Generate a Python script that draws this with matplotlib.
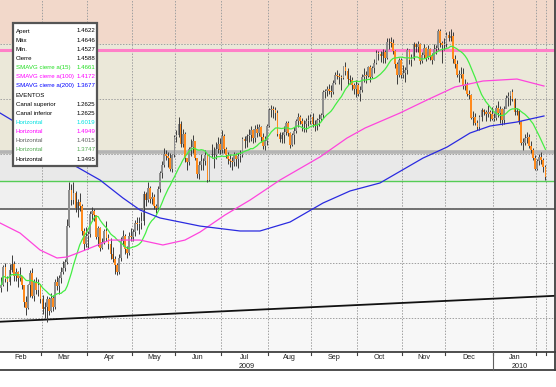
import numpy as np
import pandas as pd
import matplotlib.pyplot as plt
from matplotlib.patches import Rectangle
from matplotlib.lines import Line2D

# --- data (EUR/USD daily, Feb 2009 - Feb 2010) ---
months = ['Feb', 'Mar', 'Apr', 'May', 'Jun', 'Jul', 'Aug', 'Sep', 'Oct', 'Nov', 'Dec', 'Jan', 'Feb']
days_in_month = [20, 22, 22, 21, 22, 23, 21, 22, 22, 21, 23, 21, 5]
years = ['2009', '2010']

first_open = 1.2770
closes = [
    1.2800, 1.2960, 1.2850, 1.2830, 1.2940, 1.2990, 1.2880, 1.2920, 1.2860, 1.2880,
    1.2800, 1.2640, 1.2590, 1.2800, 1.2910, 1.2700, 1.2830, 1.2750, 1.2800, 1.2670,
    1.2580, 1.2600, 1.2670, 1.2560, 1.2680, 1.2600, 1.2830, 1.2790, 1.2860, 1.2920, 1.2950,
    1.3010, 1.3340, 1.3670, 1.3580, 1.3640, 1.3500, 1.3560, 1.3520, 1.3290, 1.3170, 1.3250,
    1.3270, 1.3450, 1.3480, 1.3440, 1.3240, 1.3320, 1.3140, 1.3190, 1.3290, 1.3230, 1.3170,
    1.3080, 1.3040, 1.2980, 1.2920, 1.3050, 1.3200, 1.3250, 1.3130, 1.3090, 1.3250, 1.3240,
    1.3280, 1.3370, 1.3360, 1.3370, 1.3380, 1.3630, 1.3580, 1.3690, 1.3590, 1.3600, 1.3520,
    1.3500, 1.3680, 1.3820, 1.3900, 1.4000, 1.3980, 1.3960, 1.3860, 1.3990, 1.4150,
    1.4170, 1.4270, 1.4090, 1.4180, 1.3960, 1.3920, 1.4040, 1.4060, 1.4120, 1.3960, 1.3810,
    1.3900, 1.3930, 1.3930, 1.3990, 1.3760, 1.3990, 1.3990, 1.3990, 1.4040, 1.4090, 1.4030,
    1.4160, 1.4040, 1.3990, 1.3950, 1.3930, 1.3920, 1.3990, 1.3950, 1.3980, 1.3990, 1.4130,
    1.4120, 1.4160, 1.4170, 1.4220, 1.4140, 1.4230, 1.4190, 1.4240, 1.4150, 1.4070, 1.4120, 1.4250,
    1.4400, 1.4410, 1.4400, 1.4370, 1.4180, 1.4130, 1.4170, 1.4200, 1.4280, 1.4190, 1.4080,
    1.4170, 1.4210, 1.4300, 1.4340, 1.4300, 1.4270, 1.4270, 1.4300, 1.4300, 1.4340,
    1.4270, 1.4260, 1.4310, 1.4320, 1.4350, 1.4560, 1.4570, 1.4590, 1.4570, 1.4560, 1.4650,
    1.4720, 1.4710, 1.4700, 1.4690, 1.4790, 1.4760, 1.4680, 1.4670, 1.4630, 1.4590, 1.4630,
    1.4550, 1.4580, 1.4700, 1.4720, 1.4710, 1.4790, 1.4700, 1.4780, 1.4830, 1.4920, 1.4910,
    1.4890, 1.4930, 1.4880, 1.5020, 1.5020, 1.5010, 1.4940, 1.4820, 1.4720, 1.4860, 1.4720,
    1.4740, 1.4770, 1.4950, 1.4860, 1.4870, 1.5000, 1.4980, 1.5000, 1.4850, 1.4900, 1.4970,
    1.4880, 1.4960, 1.4890, 1.4860, 1.4960, 1.4970, 1.5120, 1.5010, 1.4990, 1.5000,
    1.5090, 1.5060, 1.5080, 1.4870, 1.4820, 1.4720, 1.4720, 1.4730, 1.4620, 1.4630, 1.4550, 1.4540,
    1.4330, 1.4340, 1.4280, 1.4240, 1.4340, 1.4400, 1.4380, 1.4360, 1.4380, 1.4360, 1.4320,
    1.4330, 1.4420, 1.4370, 1.4410, 1.4310, 1.4410, 1.4510, 1.4530, 1.4560, 1.4500, 1.4380,
    1.4390, 1.4290, 1.4100, 1.4100, 1.4140, 1.4150, 1.4070, 1.4030, 1.3960, 1.3860,
    1.3930, 1.3970, 1.3940, 1.3880, 1.3785,
]
highs = [
    1.2870, 1.2980, 1.3000, 1.2880, 1.2990, 1.3070, 1.3020, 1.2950, 1.2930, 1.2960,
    1.2880, 1.2800, 1.2700, 1.2810, 1.2940, 1.2950, 1.2850, 1.2870, 1.2850, 1.2810,
    1.2710, 1.2640, 1.2700, 1.2690, 1.2730, 1.2710, 1.2850, 1.2880, 1.2890, 1.2960, 1.3020,
    1.3040, 1.3400, 1.3740, 1.3720, 1.3740, 1.3660, 1.3590, 1.3640, 1.3540, 1.3320, 1.3330,
    1.3290, 1.3480, 1.3510, 1.3490, 1.3440, 1.3340, 1.3330, 1.3230, 1.3310, 1.3380, 1.3270,
    1.3230, 1.3150, 1.3060, 1.3000, 1.3080, 1.3240, 1.3300, 1.3270, 1.3160, 1.3280, 1.3320,
    1.3310, 1.3390, 1.3420, 1.3420, 1.3470, 1.3660, 1.3650, 1.3740, 1.3700, 1.3650, 1.3630,
    1.3540, 1.3700, 1.3840, 1.3930, 1.4050, 1.4030, 1.4020, 1.4010, 1.4000, 1.4170,
    1.4220, 1.4340, 1.4300, 1.4230, 1.4200, 1.3960, 1.4060, 1.4130, 1.4170, 1.4120, 1.3930,
    1.3930, 1.4000, 1.3960, 1.4030, 1.3990, 1.4000, 1.4090, 1.4060, 1.4110, 1.4150, 1.4140,
    1.4220, 1.4180, 1.4060, 1.4020, 1.4000, 1.3970, 1.4020, 1.4010, 1.4010, 1.4030, 1.4150,
    1.4160, 1.4180, 1.4230, 1.4250, 1.4230, 1.4260, 1.4270, 1.4270, 1.4250, 1.4190, 1.4160, 1.4270,
    1.4420, 1.4450, 1.4440, 1.4430, 1.4400, 1.4200, 1.4200, 1.4250, 1.4300, 1.4300, 1.4200,
    1.4190, 1.4240, 1.4320, 1.4370, 1.4350, 1.4330, 1.4310, 1.4330, 1.4350, 1.4360,
    1.4370, 1.4310, 1.4330, 1.4360, 1.4370, 1.4580, 1.4590, 1.4620, 1.4640, 1.4630, 1.4670,
    1.4750, 1.4770, 1.4740, 1.4720, 1.4800, 1.4840, 1.4780, 1.4720, 1.4700, 1.4650, 1.4670,
    1.4650, 1.4620, 1.4730, 1.4780, 1.4760, 1.4800, 1.4810, 1.4800, 1.4870, 1.4950, 1.4940,
    1.4940, 1.4960, 1.4950, 1.5060, 1.5060, 1.5070, 1.5050, 1.4950, 1.4840, 1.4880, 1.4880,
    1.4810, 1.4790, 1.4970, 1.4960, 1.4910, 1.5020, 1.5010, 1.5030, 1.5010, 1.4930, 1.5000,
    1.4980, 1.4990, 1.4970, 1.4920, 1.5000, 1.4990, 1.5145, 1.5140, 1.5030, 1.5060,
    1.5110, 1.5120, 1.5140, 1.5110, 1.4900, 1.4860, 1.4770, 1.4790, 1.4780, 1.4680, 1.4660, 1.4580,
    1.4550, 1.4390, 1.4370, 1.4310, 1.4350, 1.4420, 1.4410, 1.4400, 1.4450, 1.4400, 1.4430,
    1.4370, 1.4450, 1.4480, 1.4440, 1.4420, 1.4440, 1.4540, 1.4560, 1.4570, 1.4590, 1.4510,
    1.4420, 1.4410, 1.4300, 1.4140, 1.4180, 1.4200, 1.4180, 1.4120, 1.4050, 1.3990,
    1.3950, 1.4000, 1.4020, 1.3960, 1.3900,
]
lows = [
    1.2735, 1.2790, 1.2830, 1.2740, 1.2800, 1.2920, 1.2840, 1.2840, 1.2780, 1.2840,
    1.2760, 1.2600, 1.2520, 1.2580, 1.2690, 1.2680, 1.2650, 1.2720, 1.2700, 1.2630,
    1.2530, 1.2500, 1.2460, 1.2520, 1.2550, 1.2560, 1.2580, 1.2750, 1.2720, 1.2820, 1.2900,
    1.2930, 1.2990, 1.3330, 1.3530, 1.3540, 1.3470, 1.3420, 1.3480, 1.3260, 1.3120, 1.3150,
    1.3130, 1.3240, 1.3380, 1.3380, 1.3220, 1.3160, 1.3110, 1.3130, 1.3170, 1.3200, 1.3130,
    1.3040, 1.3010, 1.2900, 1.2890, 1.2900, 1.3020, 1.3160, 1.3080, 1.3050, 1.3070, 1.3200,
    1.3200, 1.3250, 1.3300, 1.3270, 1.3310, 1.3350, 1.3520, 1.3560, 1.3550, 1.3540, 1.3490,
    1.3460, 1.3490, 1.3650, 1.3780, 1.3880, 1.3940, 1.3880, 1.3840, 1.3830, 1.3970,
    1.4110, 1.4150, 1.4060, 1.4060, 1.3920, 1.3850, 1.3900, 1.3980, 1.4010, 1.3940, 1.3780,
    1.3770, 1.3850, 1.3850, 1.3900, 1.3740, 1.3750, 1.3960, 1.3870, 1.3950, 1.4010, 1.4000,
    1.4010, 1.4010, 1.3960, 1.3910, 1.3880, 1.3850, 1.3890, 1.3890, 1.3870, 1.3920, 1.3970,
    1.4050, 1.4060, 1.4110, 1.4120, 1.4100, 1.4110, 1.4150, 1.4160, 1.4110, 1.4040, 1.4030, 1.4080,
    1.4240, 1.4340, 1.4330, 1.4310, 1.4160, 1.4110, 1.4100, 1.4100, 1.4170, 1.4160, 1.4050,
    1.4070, 1.4090, 1.4190, 1.4240, 1.4270, 1.4210, 1.4200, 1.4200, 1.4250, 1.4270,
    1.4240, 1.4210, 1.4220, 1.4250, 1.4300, 1.4330, 1.4510, 1.4530, 1.4550, 1.4520, 1.4550,
    1.4640, 1.4680, 1.4640, 1.4580, 1.4680, 1.4720, 1.4630, 1.4640, 1.4580, 1.4550, 1.4520,
    1.4530, 1.4480, 1.4560, 1.4660, 1.4650, 1.4700, 1.4660, 1.4690, 1.4740, 1.4820, 1.4860,
    1.4840, 1.4830, 1.4830, 1.4870, 1.4960, 1.4980, 1.4910, 1.4780, 1.4640, 1.4700, 1.4690,
    1.4690, 1.4660, 1.4730, 1.4820, 1.4800, 1.4860, 1.4930, 1.4930, 1.4820, 1.4830, 1.4880,
    1.4850, 1.4870, 1.4860, 1.4820, 1.4860, 1.4910, 1.4950, 1.4980, 1.4830, 1.4950,
    1.4980, 1.5030, 1.5030, 1.4830, 1.4780, 1.4700, 1.4660, 1.4690, 1.4590, 1.4580, 1.4530, 1.4500,
    1.4320, 1.4260, 1.4260, 1.4220, 1.4220, 1.4300, 1.4350, 1.4300, 1.4340, 1.4300, 1.4310,
    1.4300, 1.4310, 1.4340, 1.4280, 1.4260, 1.4270, 1.4430, 1.4440, 1.4450, 1.4480, 1.4350,
    1.4350, 1.4270, 1.4080, 1.4030, 1.4080, 1.4100, 1.4050, 1.4010, 1.3940, 1.3850,
    1.3850, 1.3900, 1.3910, 1.3830, 1.3760,
]

# moving averages (100 / 200) read at sample bars
sma100_bar = [-0.6, 9.1, 18.8, 27.0, 31.9, 38.2, 45.5, 52.7, 67.3, 78.4, 89.1, 96.4, 108.5,
              120.7, 135.2, 154.6, 167.7, 176.5, 193.4, 206.5, 220.1, 233.7, 250.2, 263.3]
sma100_val = [1.3366, 1.3274, 1.3119, 1.3046, 1.3055, 1.3100, 1.3155, 1.3210, 1.3210, 1.3165,
              1.3210, 1.3283, 1.3439, 1.3576, 1.3759, 1.3970, 1.4143, 1.4235, 1.4372, 1.4491,
              1.4610, 1.4665, 1.4683, 1.4619]
sma200_bar = [-0.6, 18.8, 33.3, 47.9, 59.0, 67.3, 77.0, 89.1, 96.4, 115.8, 125.5, 140.1,
              156.1, 169.2, 183.7, 204.6, 216.3, 227.4, 237.1, 250.2, 263.3]
sma200_val = [1.4372, 1.4153, 1.3915, 1.3759, 1.3595, 1.3485, 1.3412, 1.3366, 1.3338, 1.3293,
              1.3293, 1.3375, 1.3549, 1.3659, 1.3732, 1.3960, 1.4061, 1.4189, 1.4253, 1.4290,
              1.4345]

# channel line (two anchor bars)
channel_bar = [-0.6, 268.6]
channel_val = [1.2463, 1.2700]

# horizontal events
h_levels = [1.4949, 1.4015, 1.3747, 1.3495]
h_colors = ['#ff80c8', '#b4b4b4', '#55cc55', '#707070']
h_widths = [2.2, 2.6, 1.0, 1.4]

box_labels = ['Apert', 'Máx', 'Mín.', 'Cierre', 'SMAVG cierre a(15)', 'SMAVG cierre a(100)',
              'SMAVG cierre a(200)', 'EVENTOS', 'Canal superior', 'Canal inferior',
              'Horizontal', 'Horizontal', 'Horizontal', 'Horizontal', 'Horizontal']
box_values = ['1.4622', '1.4646', '1.4527', '1.4588', '1.4661', '1.4172', '1.3677', '',
              '1.2625', '1.2625', '1.6019', '1.4949', '1.4015', '1.3747', '1.3495']
box_colors = ['black', 'black', 'black', 'black', '#22dd22', '#ff00ff', '#0000ff', 'black',
              'black', 'black', '#00e0e0', '#ff00ff', '#606060', '#55aa55', 'black']

# --- figure ---
W, H = 556, 387
fig = plt.figure(figsize=(W / 100, H / 100), dpi=100)
fig.patch.set_facecolor('white')
plt.rcParams['font.family'] = ['Liberation Sans', 'DejaVu Sans']

def fx(px):
    return px / W

def fy(py):
    return 1 - py / H

ax = fig.add_axes([0, fy(352), fx(555), 352 / H])
x0, x1 = -0.636, 268.65
y0, y1 = 1.2186, 1.5406
ax.set_xlim(x0, x1)
ax.set_ylim(y0, y1)

# background bands
ax.axhspan(1.50, y1, color='#f2d8ca', zorder=0)
ax.axhspan(1.40, 1.50, color='#ebe8d9', zorder=0)
ax.axhspan(1.3747, 1.40, color='#e9e9e9', zorder=0)
ax.axhspan(1.3495, 1.3747, color='#f0f0f0', zorder=0)
ax.axhspan(y0, 1.3495, color='#f7f7f7', zorder=0)

# grid
month_start = np.concatenate([[0], np.cumsum(days_in_month)])
for b in month_start[1:]:
    ax.axvline(b - 0.5, color='#a0a0a0', lw=0.7, ls=(0, (1.5, 1.5)), zorder=1)
for lv in np.arange(1.25, 1.55, 0.05):
    ax.axhline(lv, color='#a0a0a0', lw=0.7, ls=(0, (1.5, 1.5)), zorder=1)

for lv, c, w in zip(h_levels, h_colors, h_widths):
    ax.axhline(lv, color=c, lw=w, zorder=2)

ax.plot(channel_bar, channel_val, color='#111111', lw=1.3, zorder=2)

# candles
c = np.array(closes)
o = np.array([first_open] + closes[:-1])
hi = np.array(highs)
lo = np.array(lows)
xb = np.arange(len(c))
ax.vlines(xb, lo, hi, color='#3c3c3c', lw=0.7, zorder=3)
body = np.where(np.abs(c - o) < 0.0006, 0.0006, np.abs(c - o))
bottom = np.minimum(o, c)
up = c >= o
ax.bar(xb[up], body[up], bottom=bottom[up], width=0.85, color='#8e8e8e', edgecolor='none', zorder=4)
ax.bar(xb[~up], body[~up], bottom=bottom[~up], width=0.85, color='#ff8a1c', edgecolor='none', zorder=4)

# moving averages
sma15 = pd.Series(c).rolling(15, min_periods=1).mean()
ax.plot(xb, sma15, color='#44ee44', lw=0.9, zorder=5)
ax.plot(sma100_bar, sma100_val, color='#ff44dd', lw=0.9, zorder=5)
ax.plot(sma200_bar, sma200_val, color='#2a2ae0', lw=0.9, zorder=5)

ax.set_xticks([])
ax.set_yticks([])
for s in ['top', 'left']:
    ax.spines[s].set_visible(False)
ax.spines['bottom'].set_color('#404040')
ax.spines['bottom'].set_linewidth(1.3)
ax.spines['right'].set_color('#404040')
ax.spines['right'].set_linewidth(1.3)

# date strip below the axes
def bar2px(b):
    return 1.31 + 2.061 * b

fig.add_artist(Line2D([0, fx(556)], [fy(370), fy(370)], color='#404040', lw=1.3))
fig.add_artist(Line2D([fx(555), fx(555)], [fy(352), fy(370)], color='#404040', lw=1.3))
for b in month_start[1:]:
    px = bar2px(b - 0.5)
    fig.add_artist(Line2D([fx(px), fx(px)], [fy(352), fy(355)], color='#404040', lw=0.8))
for i, m in enumerate(months[:-1]):
    mid = (month_start[i] + month_start[i + 1]) / 2 - 0.5
    fig.text(fx(bar2px(mid)), fy(357.5), m, fontsize=5.2, ha='center', va='center', color='#222222')
jan_px = bar2px(month_start[11] - 0.5)
fig.add_artist(Line2D([fx(jan_px), fx(jan_px)], [fy(352), fy(370)], color='#606060', lw=0.8))
fig.text(fx(jan_px / 2), fy(366.5), years[0], fontsize=5.2, ha='center', va='center', color='#222222')
fig.text(fx((jan_px + 555) / 2 - 4), fy(366.5), years[1], fontsize=5.2, ha='center', va='center', color='#222222')

# info box
fig.add_artist(Rectangle((fx(13), fy(166)), fx(84), 143 / H, transform=fig.transFigure,
                         facecolor='white', edgecolor='#555555', lw=1.6, zorder=6))
for k, (lab, val, col) in enumerate(zip(box_labels, box_values, box_colors)):
    yy = fy(31 + 9.15 * k)
    fig.text(fx(15.5), yy, lab, fontsize=4.4, color=col, ha='left', va='center', zorder=7)
    if val:
        fig.text(fx(95.5), yy, val, fontsize=4.4, color=col, ha='right', va='center', zorder=7)

fig.savefig('out.png', dpi=100)
